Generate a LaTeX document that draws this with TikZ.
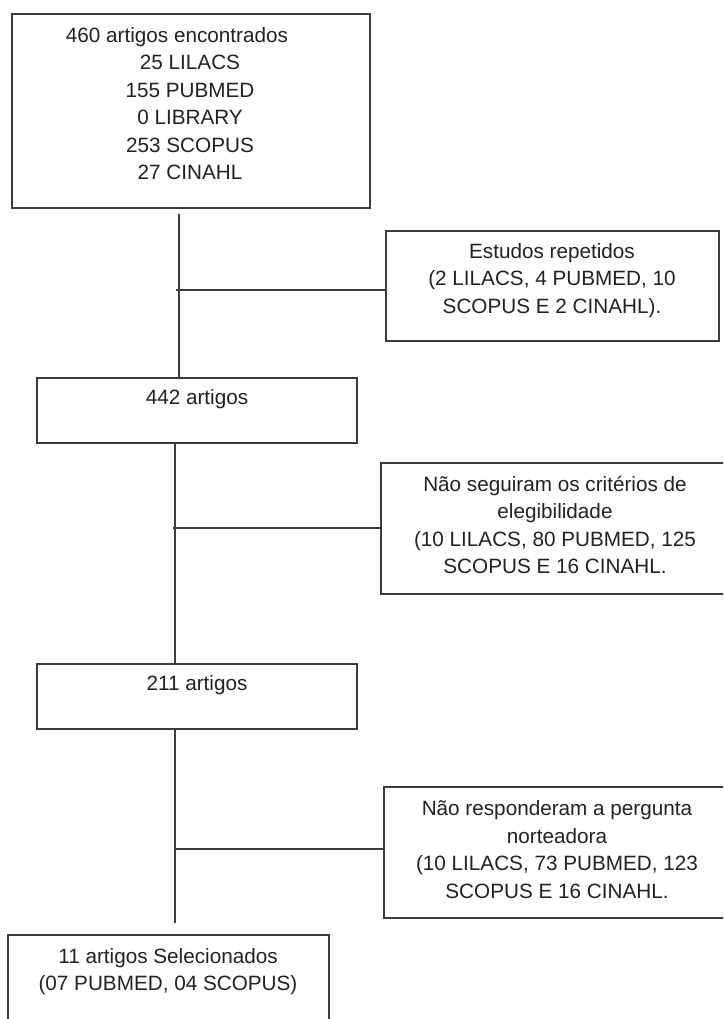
\documentclass[tikz,border=0pt]{standalone}
\usepackage{fontspec}
\setmainfont{Liberation Sans}
\definecolor{ink}{HTML}{222222}
\definecolor{edge}{HTML}{3C3C3C}
\begin{document}
\begin{tikzpicture}[x=1pt,y=-1pt,
  boxnode/.style={draw=edge,line width=1.8pt,rectangle,inner sep=0pt,minimum width=#1},
  txt/.style={inner sep=0pt,align=center,text=ink,font=\fontsize{20.7}{27.5}\selectfont},
  conn/.style={draw=edge,line width=1.6pt}]
\fill[white] (0,0) rectangle (723,1019);
\clip (0,0) rectangle (723,1019);
% boxes
\node[boxnode=358pt,minimum height=194pt] (b1) at (191,111) {};
\node[boxnode=333pt,minimum height=110pt] (bE) at (552.5,286) {};
\node[boxnode=320pt,minimum height=65pt] (b2) at (197,410.5) {};
\node[boxnode=349pt,minimum height=131pt] (bN1) at (555.5,528.5) {};
\node[boxnode=320pt,minimum height=65pt] (b3) at (197,696.5) {};
\node[boxnode=346pt,minimum height=131pt] (bN2) at (557,852.5) {};
\node[boxnode=321pt,minimum height=95pt] (b4) at (168.5,982.5) {};
% texts
\node[txt] (t1) at (190,103.5) {460 artigos encontrados\hspace{26pt}\mbox{}\\25 LILACS\\155 PUBMED\\0 LIBRARY\\253 SCOPUS\\27 CINAHL};
\node[txt] (tE) at (552,280.5) {Estudos repetidos\\(2 LILACS, 4 PUBMED, 10\\SCOPUS E 2 CINAHL).};
\node[txt] (t2) at (197,399) {442 artigos};
\node[txt] (tN1) at (555,525) {Não seguiram os critérios de\\elegibilidade\\(10 LILACS, 80 PUBMED, 125\\SCOPUS E 16 CINAHL.};
\node[txt] (t3) at (197,685) {211 artigos};
\node[txt] (tN2) at (557,849.5) {Não responderam a pergunta\\norteadora\\(10 LILACS, 73 PUBMED, 123\\SCOPUS E 16 CINAHL.};
\node[txt] (t4) at (168,971.5) {11 artigos Selecionados\\(07 PUBMED, 04 SCOPUS)};
% connector coordinates
\coordinate (v1) at (179,214);
\coordinate (j1) at (176,290);
\coordinate (c2) at (175,0);
\coordinate (j2) at (173,528);
\coordinate (j3) at (175,849);
\coordinate (e3) at (175,923);
% connectors
\draw[conn] (v1) -- (v1 |- b2.north);
\draw[conn] (j1) -- (j1 -| bE.west);
\draw[conn] (b2.south -| c2) -- (b3.north -| c2);
\draw[conn] (j2) -- (j2 -| bN1.west);
\draw[conn] (b3.south -| c2) -- (e3);
\draw[conn] (j3) -- (j3 -| bN2.west);
\end{tikzpicture}
\end{document}
